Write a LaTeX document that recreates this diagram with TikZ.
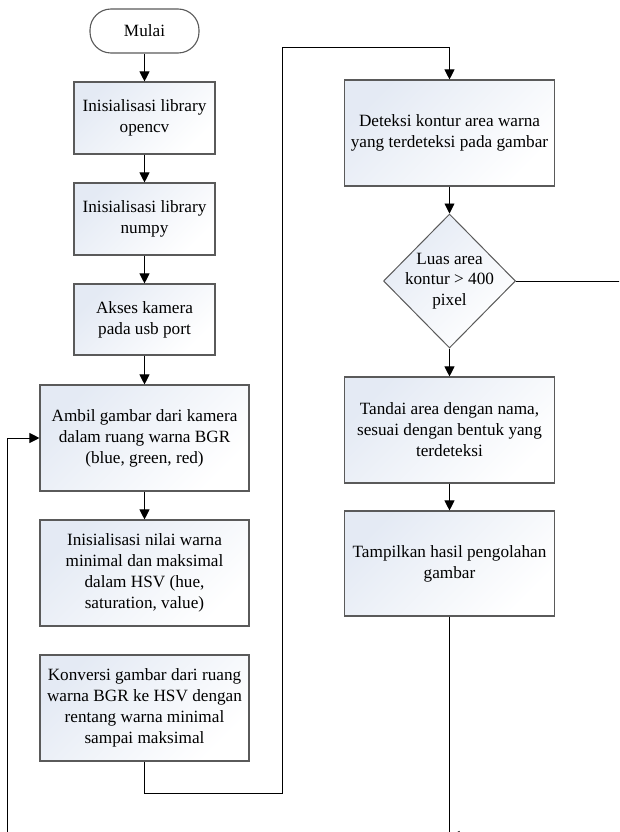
\documentclass[tikz,border=0pt]{standalone}
\usepackage{fontspec}
\setmainfont{Liberation Serif}
\usetikzlibrary{arrows.meta,shapes.geometric}
\definecolor{boxtop}{HTML}{E4EAF4}
\definecolor{boxline}{HTML}{5A5A5A}
\tikzset{
  x=1pt,y=-1pt,
  procbox/.style={draw=boxline,line width=1.1pt,top color=boxtop,bottom color=white,shading angle=45,
    align=center,inner sep=2pt,font=\fontsize{17.2}{21}\selectfont,minimum width=#1},
  termbox/.style={draw=boxline,line width=1.1pt,fill=white,rounded corners=21pt,
    minimum width=109pt,minimum height=44pt,font=\fontsize{17.2}{21}\selectfont},
  decbox/.style={draw=boxline,line width=1pt,diamond,aspect=1,top color=boxtop,bottom color=white,shading angle=45,
    minimum width=132pt,minimum height=134pt,inner sep=-6pt,align=center,font=\fontsize{17.2}{20.5}\selectfont},
  conn/.style={draw=black,line width=0.9pt},
  arr/.style={conn,-{Triangle[length=10pt,width=10pt]}}
}
\begin{document}
\begin{tikzpicture}
\useasboundingbox (0,0) rectangle (619,832);
\clip (0,0) rectangle (619,832);
\node[termbox] (mulai) at (144.5,31) {Mulai};
\node[procbox=141pt,minimum height=72pt] (b1) at (144.5,118) {Inisialisasi library\\opencv};
\node[procbox=141pt,minimum height=72pt] (b2) at (144.5,219) {Inisialisasi library\\numpy};
\node[procbox=141pt,minimum height=71pt] (b3) at (144.5,319.5) {Akses kamera\\pada usb port};
\node[procbox=209pt,minimum height=106pt] (b4) at (144.5,438) {Ambil gambar dari kamera\\dalam ruang warna BGR\\(blue, green, red)};
\node[procbox=209pt,minimum height=106pt] (b5) at (144.5,573) {Inisialisasi nilai warna\\minimal dan maksimal\\dalam HSV (hue,\\saturation, value)};
\node[procbox=209pt,minimum height=106pt] (b6) at (144.5,708) {Konversi gambar dari ruang\\warna BGR ke HSV dengan\\rentang warna minimal\\sampai maksimal};
\node[procbox=210pt,minimum height=106pt] (d1) at (449.5,133) {Deteksi kontur area warna\\yang terdeteksi pada gambar};
\node[decbox] (dia) at (449.5,281) {Luas area\\kontur > 400\\pixel};
\node[procbox=210pt,minimum height=106pt] (t1) at (449.5,430) {Tandai area dengan nama,\\sesuai dengan bentuk yang\\terdeteksi};
\node[procbox=210pt,minimum height=105pt] (t2) at (449.5,563.5) {Tampilkan hasil pengolahan\\gambar};

\coordinate (c1) at (144.5,793);
\coordinate (c2) at (282,793);
\coordinate (c3) at (282,47);
\coordinate (c4) at (449.5,47);
\coordinate (rend) at (625,281);
\coordinate (bot) at (449.5,836);
\coordinate (botr) at (625,836);
\coordinate (lbot) at (7,840);
\coordinate (lmid) at (7,438);

\draw[arr] (mulai) -- (b1);
\draw[arr] (b1) -- (b2);
\draw[arr] (b2) -- (b3);
\draw[arr] (b3) -- (b4);
\draw[arr] (b4) -- (b5);
\draw[conn] (b6.south) -- (c1) -- (c2) -- (c3) -- (c4);
\draw[arr] (c4) -- (d1.north);
\draw[arr] (d1) -- (dia);
\draw[arr] (dia) -- (t1);
\draw[arr] (t1) -- (t2);
\draw[conn] (dia.east) -- (rend);
\draw[conn] (t2.south) -- (bot);
\draw[arr] (botr) -- (bot);
\draw[arr] (lbot) -- (lmid) -- (b4.west);
\end{tikzpicture}
\end{document}
